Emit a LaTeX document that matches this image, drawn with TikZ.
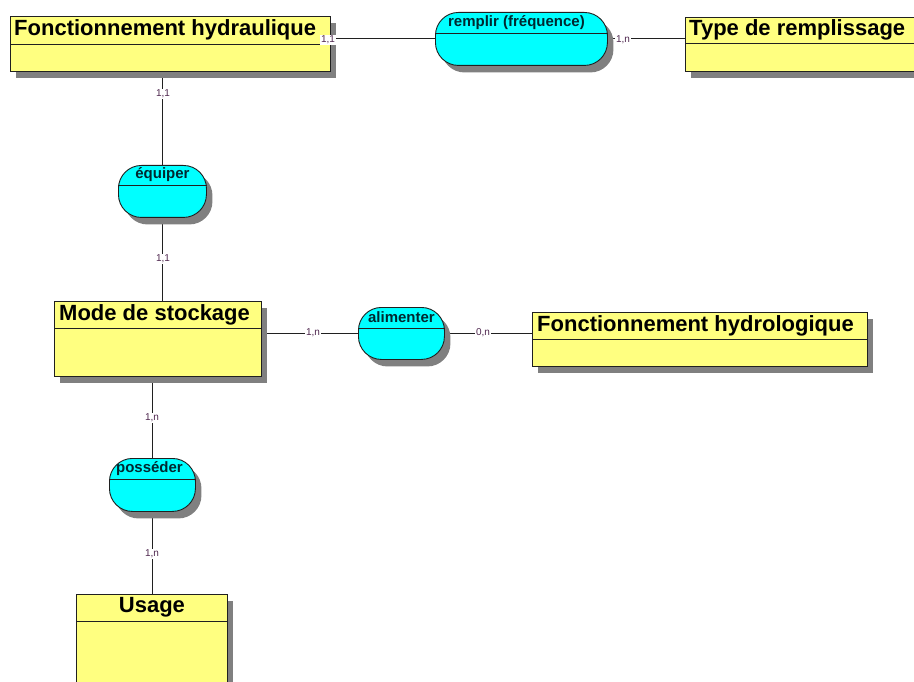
\documentclass[tikz,border=0pt]{standalone}
\usepackage{fontspec}
\setmainfont{Liberation Sans}
\usetikzlibrary{shadows,backgrounds}
\definecolor{entfill}{HTML}{FFFF80}
\definecolor{relfill}{HTML}{00FFFF}
\definecolor{shad}{HTML}{808080}
\definecolor{card}{HTML}{502850}
\definecolor{edge}{HTML}{202020}
\definecolor{reltext}{HTML}{002830}
\tikzset{
  shad/.style={drop shadow={shadow xshift=6pt, shadow yshift=-7pt, fill=shad, opacity=1}},
  ent/.style={draw=edge, line width=0.9pt, fill=entfill, anchor=north west, inner sep=0pt, shad},
  rel/.style={draw=edge, line width=0.9pt, fill=relfill, rounded corners=23pt, anchor=north west, inner sep=0pt, shad},
  enttitle/.style={font=\fontsize{22}{24}\selectfont\bfseries, text=black, inner sep=0pt},
  reltitle/.style={font=\fontsize{15}{17}\selectfont\bfseries, text=reltext, inner sep=0pt},
  cardlbl/.style={font=\fontsize{10}{12}\selectfont, text=card, fill=white, inner sep=1pt},
  link/.style={draw=edge, line width=0.9pt},
  hline/.style={draw=edge, line width=0.9pt}
}
\begin{document}
\begin{tikzpicture}[x=1pt,y=-1pt]
\useasboundingbox (0,0) rectangle (914,682);
% entities
\node[ent, minimum width=320pt, minimum height=55pt] (fh) at (10,16) {};
\node[ent, minimum width=240pt, minimum height=54pt] (tr) at (685,17) {};
\node[ent, minimum width=207pt, minimum height=75pt] (ms) at (54,301) {};
\node[ent, minimum width=335pt, minimum height=54pt] (fo) at (532,312) {};
\node[ent, minimum width=151pt, minimum height=100pt] (us) at (76,594) {};
% relations
\node[rel, minimum width=172pt, minimum height=53pt] (rp) at (435,12) {};
\node[rel, minimum width=88pt, minimum height=52pt] (eq) at (118,165) {};
\node[rel, minimum width=86pt, minimum height=52pt] (al) at (358,307) {};
\node[rel, minimum width=86pt, minimum height=53pt] (po) at (109,458) {};
% header lines
\draw[hline] ([yshift=-28pt]fh.north west) -- ([yshift=-28pt]fh.north east);
\draw[hline] ([yshift=-26pt]tr.north west) -- ([yshift=-26pt]tr.north east);
\draw[hline] ([yshift=-27pt]ms.north west) -- ([yshift=-27pt]ms.north east);
\draw[hline] ([yshift=-27pt]fo.north west) -- ([yshift=-27pt]fo.north east);
\draw[hline] ([yshift=-27pt]us.north west) -- ([yshift=-27pt]us.north east);
\draw[hline] ([yshift=-21pt]rp.north west) -- ([yshift=-21pt]rp.north east);
\draw[hline] ([yshift=-20pt]eq.north west) -- ([yshift=-20pt]eq.north east);
\draw[hline] ([yshift=-21pt]al.north west) -- ([yshift=-21pt]al.north east);
\draw[hline] ([yshift=-21pt]po.north west) -- ([yshift=-21pt]po.north east);
% titles
\node[enttitle, anchor=west] (fht) at ([xshift=4pt,yshift=-14pt]fh.north west) {Fonctionnement hydraulique};
\node[enttitle, anchor=west] (trt) at ([xshift=4pt,yshift=-13pt]tr.north west) {Type de remplissage};
\node[enttitle, anchor=west] (mst) at ([xshift=5pt,yshift=-13.5pt]ms.north west) {Mode de stockage};
\node[enttitle, anchor=west] (fot) at ([xshift=5pt,yshift=-13.5pt]fo.north west) {Fonctionnement hydrologique};
\node[enttitle] (ust) at ([yshift=-13.5pt]us.north) {Usage};
\node[reltitle] (rpt) at ([xshift=-5pt,yshift=-10.5pt]rp.north) {remplir (fréquence)};
\node[reltitle] (eqt) at ([yshift=-10pt]eq.north) {équiper};
\node[reltitle] (alt) at ([yshift=-10.5pt]al.north) {alimenter};
\node[reltitle] (pot) at ([xshift=-3pt,yshift=-10.5pt]po.north) {posséder};
% connectors
\begin{pgfonlayer}{background}
\draw[link] (rp.west) -- (rp.west -| fh.east);
\draw[link] (rp.east) -- (rp.east -| tr.west);
\draw[link] (eq.north) -- (eq.north |- fh.south);
\draw[link] (eq.south) -- (eq.south |- ms.north);
\draw[link] (al.west) -- (al.west -| ms.east);
\draw[link] (al.east) -- (al.east -| fo.west);
\draw[link] (po.north) -- (po.north |- ms.south);
\draw[link] (po.south) -- (po.south |- us.north);
\end{pgfonlayer}
% cardinalities
\node[cardlbl] (c1) at (328,40) {1,1};
\node[cardlbl] (c2) at (623,40) {1,n};
\node[cardlbl] (c3) at (163,94) {1,1};
\node[cardlbl] (c4) at (163,259) {1,1};
\node[cardlbl] (c5) at (313,333) {1,n};
\node[cardlbl] (c6) at (483,333) {0,n};
\node[cardlbl] (c7) at (152,418) {1,n};
\node[cardlbl] (c8) at (152,554) {1,n};
\end{tikzpicture}
\end{document}
